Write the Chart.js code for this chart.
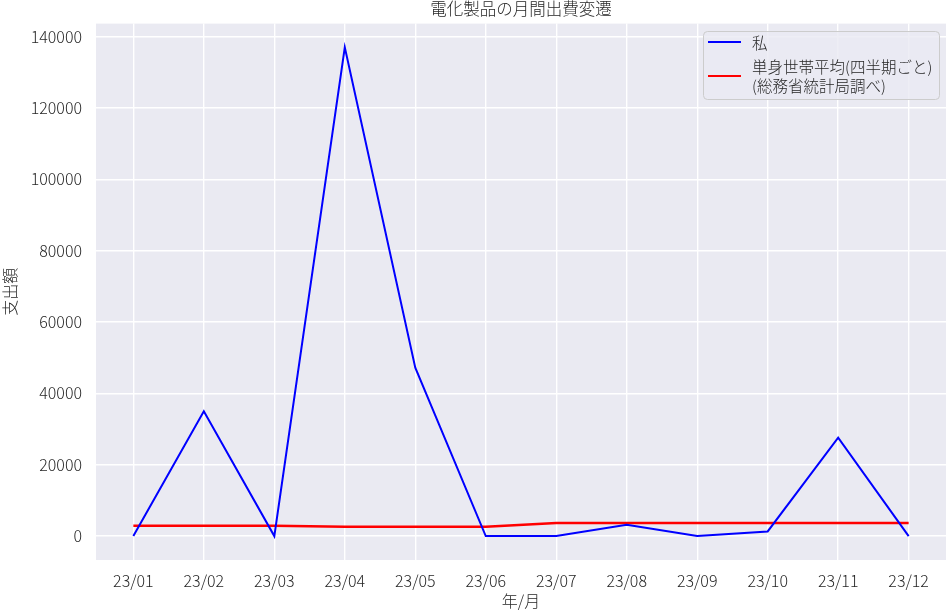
<!DOCTYPE html>
<html>
<head>
<meta charset="utf-8">
<script src="https://cdn.jsdelivr.net/npm/chart.js@4.4.0/dist/chart.umd.min.js"></script>
<style>
  html, body { margin: 0; padding: 0; background: #ffffff; }
</style>
</head>
<body>
<canvas id="c" width="950" height="611"></canvas>
<script>
// Monthly appliance spending vs. quarterly single-household average
const months = ['23/01', '23/02', '23/03', '23/04', '23/05', '23/06',
                '23/07', '23/08', '23/09', '23/10', '23/11', '23/12'];
const mySpending = [0, 35000, 0, 137000, 47200, 0, 0, 3200, 0, 1300, 27600, 0];
const singleHouseholdAvg = [2900, 2900, 2900, 2650, 2650, 2650, 3700, 3700, 3700, 3700, 3700, 3700];
const yTickValues = [0, 20000, 40000, 60000, 80000, 100000, 120000, 140000];
const chartTitle = '電化製品の月間出費変遷';

const FONT = "'Noto Sans CJK JP', 'DejaVu Sans', sans-serif";
const TEXT = '#262626';

const toPoints = arr => arr.map((v, i) => ({ x: i, y: v }));

// grey plotting background behind the grid
const plotBackground = {
  id: 'plotBackground',
  beforeDraw(chart) {
    const { ctx, chartArea: a } = chart;
    ctx.save();
    ctx.fillStyle = '#eaeaf2';
    ctx.fillRect(a.left, a.top, a.right - a.left, a.bottom - a.top);
    ctx.restore();
  }
};

// title centred over the plotting area
const areaTitle = {
  id: 'areaTitle',
  afterDraw(chart) {
    const { ctx, chartArea: a } = chart;
    ctx.save();
    ctx.font = '300 16.5px ' + FONT;
    ctx.fillStyle = TEXT;
    ctx.textAlign = 'center';
    ctx.textBaseline = 'middle';
    ctx.fillText(chartTitle, (a.left + a.right) / 2, 9);
    ctx.restore();
  }
};

// legend box in the upper right, with a two-line entry
const boxLegend = {
  id: 'boxLegend',
  afterDatasetsDraw(chart) {
    const ctx = chart.ctx;
    const x = 703, y = 31, w = 236, h = 68, r = 4;
    ctx.save();
    ctx.beginPath();
    ctx.roundRect(x + 0.5, y + 0.5, w, h, r);
    ctx.fillStyle = 'rgba(234,234,242,0.8)';
    ctx.fill();
    ctx.strokeStyle = '#cccccc';
    ctx.lineWidth = 1;
    ctx.stroke();

    const entries = [
      { color: chart.data.datasets[0].borderColor, lineY: 42, lines: [chart.data.datasets[0].label], textY: [43] },
      { color: chart.data.datasets[1].borderColor, lineY: 76, lines: chart.data.datasets[1].label.split('\n'), textY: [67, 86] }
    ];
    ctx.font = '300 15.5px ' + FONT;
    ctx.textBaseline = 'middle';
    ctx.textAlign = 'left';
    entries.forEach(e => {
      ctx.beginPath();
      ctx.moveTo(708, e.lineY);
      ctx.lineTo(741, e.lineY);
      ctx.strokeStyle = e.color;
      ctx.lineWidth = 2;
      ctx.stroke();
      ctx.fillStyle = TEXT;
      e.lines.forEach((t, k) => ctx.fillText(t, 752, e.textY[k]));
    });
    ctx.restore();
  }
};

new Chart(document.getElementById('c'), {
  type: 'line',
  data: {
    datasets: [
      {
        label: '私',
        data: toPoints(mySpending),
        borderColor: '#0000ff',
        borderWidth: 2,
        pointRadius: 0,
        tension: 0
      },
      {
        label: '単身世帯平均(四半期ごと)\n(総務省統計局調べ)',
        data: toPoints(singleHouseholdAvg),
        borderColor: '#ff0000',
        borderWidth: 2.5,
        pointRadius: 0,
        tension: 0
      }
    ]
  },
  options: {
    responsive: false,
    animation: false,
    layout: { padding: { left: 0, right: 4, top: 22, bottom: 0 } },
    plugins: {
      legend: { display: false },
      tooltip: { enabled: false },
      title: { display: false }
    },
    scales: {
      x: {
        type: 'linear',
        min: -0.53,
        max: 11.53,
        afterBuildTicks: s => { s.ticks = months.map((m, i) => ({ value: i })); },
        afterFit: s => { s.height = 51; },
        ticks: {
          callback: v => months[v],
          color: TEXT,
          font: { family: FONT, size: 16, weight: 300 },
          padding: 11,
          maxRotation: 0,
          autoSkip: false
        },
        grid: { color: '#ffffff', lineWidth: 1.4, drawTicks: false },
        border: { display: false },
        title: {
          display: true,
          text: '年/月',
          color: TEXT,
          font: { family: FONT, size: 16, weight: 300 },
          padding: { top: 0, bottom: 0 }
        }
      },
      y: {
        type: 'linear',
        min: -6700,
        max: 143640,
        afterBuildTicks: s => { s.ticks = yTickValues.map(v => ({ value: v })); },
        afterFit: s => { s.width = 96; },
        ticks: {
          callback: v => String(v),
          color: TEXT,
          font: { family: FONT, size: 16, weight: 300 },
          padding: 14
        },
        grid: { color: '#ffffff', lineWidth: 1.4, drawTicks: false },
        border: { display: false },
        title: {
          display: true,
          text: '支出額',
          color: TEXT,
          font: { family: FONT, size: 16, weight: 300 },
          padding: { top: 0, bottom: 0 }
        }
      }
    }
  },
  plugins: [plotBackground, areaTitle, boxLegend]
});
</script>
</body>
</html>
